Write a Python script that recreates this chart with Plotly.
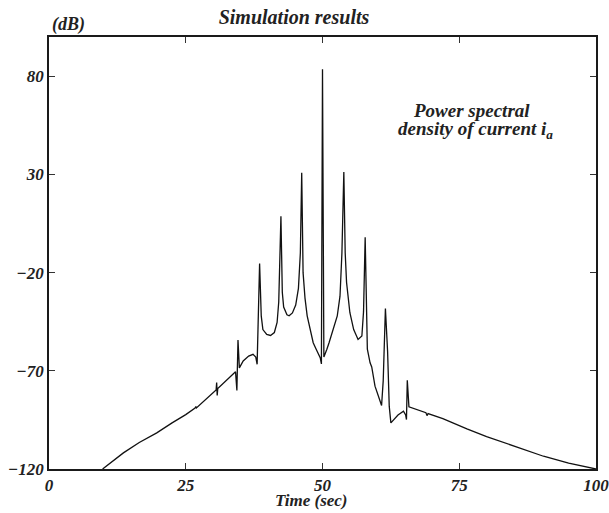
import plotly.graph_objects as go

# Power spectral density of current i_a
time_sec = [
    9.8, 11.5, 13.6, 16.5, 19.7, 22.5, 25.0, 26.7, 26.85, 26.95,
    28.8, 30.55, 30.65, 30.75, 30.85, 32.5, 34.1, 34.35, 34.55, 34.8,
    35.5, 36.5, 37.3, 37.8, 38.05, 38.5, 38.8, 39.1, 39.8, 40.5,
    41.2, 41.7, 42.0, 42.4, 42.65, 42.9, 43.5, 43.9, 44.5, 45.1,
    45.6, 45.95, 46.2, 46.45, 46.8, 47.2, 47.8, 48.3, 48.8, 49.2,
    49.6, 49.8, 50.0, 50.25, 50.4, 50.8, 51.2, 52.0, 52.7, 53.2,
    53.55, 53.9, 54.15, 54.4, 55.0, 55.7, 56.5, 57.2, 57.5, 57.8,
    58.0, 58.2, 58.7, 59.0, 59.6, 60.2, 60.8, 61.1, 61.5, 61.9,
    62.2, 62.5, 63.0, 63.8, 64.8, 65.2, 65.35, 65.5, 65.8, 67.0,
    68.9, 69.1, 69.3, 72.0, 76.4, 80.0, 83.3, 87.0, 90.4, 95.0,
    100.0,
]
psd_db = [
    -120, -116.2, -111.8, -106.5, -101.6, -96.5, -92.3, -89.0, -88.2, -88.9,
    -84.0, -79.8, -76.0, -82.5, -79.0, -74.8, -70.5, -80.0, -54.3, -68.5,
    -65.0, -62.5, -61.6, -63.0, -66.7, -15.3, -42.0, -49.0, -51.5, -52.0,
    -50.5, -45.4, -35.0, 8.7, -30.0, -37.5, -41.5, -42.0, -40.5, -36.5,
    -28.0, -10.0, 30.8, -20.0, -33.0, -42.0, -50.0, -55.7, -58.8, -60.8,
    -63.5, -66.5, 83.6, -63.0, -61.6, -59.0, -55.7, -49.0, -42.0, -32.0,
    -10.0, 31.2, -10.0, -25.0, -40.3, -49.0, -54.0, -52.3, -40.0, -2.0,
    -45.0, -59.0, -65.9, -68.0, -77.8, -83.0, -87.7, -75.0, -38.3, -60.0,
    -88.0, -96.5, -95.0, -92.5, -90.6, -92.5, -94.8, -74.8, -88.3, -89.5,
    -91.3, -92.8, -91.8, -94.3, -99.6, -103.5, -106.8, -110.5, -113.5, -117.0,
    -120.0,
]

x_ticks = [0, 25, 50, 75, 100]
y_ticks = [-120, -70, -20, 30, 80]

FONT = "Liberation Serif"
W, H = 609, 513
L, R, T, B = 49, 13, 37, 44
pw, ph = W - L - R, H - T - B


def px_x(px):
    return (px - L) / pw


def px_y(py):
    return (H - B - py) / ph


def bi(size):
    return dict(family=FONT, size=size, color="#222222", weight="bold", style="italic")


fig = go.Figure()
fig.add_trace(go.Scatter(
    x=time_sec, y=psd_db, mode="lines",
    line=dict(color="#111111", width=1.3),
    showlegend=False,
))

axis_common = dict(
    showgrid=False, zeroline=False, automargin=False,
    showline=True, linecolor="#1a1a1a", linewidth=1.8,
    mirror="ticks", ticks="inside", ticklen=6, tickcolor="#333333", tickwidth=1.3,
    tickfont=bi(17), ticklabeloverflow="allow",
)
fig.update_xaxes(range=[0, 100], tickvals=x_ticks, **axis_common)
fig.update_yaxes(range=[-120, 100], tickvals=y_ticks, **axis_common)

fig.add_annotation(text="(dB)", xref="paper", yref="paper", x=px_x(50), y=px_y(24),
                   xanchor="left", yanchor="middle", showarrow=False, font=bi(18))
fig.add_annotation(text="Power spectral", xref="paper", yref="paper", x=px_x(411), y=px_y(110),
                   xanchor="left", yanchor="middle", showarrow=False, font=bi(19))
fig.add_annotation(text="density of current i<sub>a</sub>", xref="paper", yref="paper",
                   x=px_x(396), y=px_y(130), xanchor="left", yanchor="middle",
                   showarrow=False, font=bi(19))
fig.add_annotation(text="Time (sec)", xref="paper", yref="paper", x=px_x(311), y=px_y(501),
                   xanchor="center", yanchor="middle", showarrow=False, font=bi(17))

fig.update_layout(
    width=W, height=H,
    margin=dict(l=L, r=R, t=T, b=B),
    paper_bgcolor="white", plot_bgcolor="white",
    title=dict(text="Simulation results", x=294 / W, xanchor="center",
               y=1 - 17 / H, yanchor="middle", font=bi(20)),
)

# drop the default 8px body margin so the 609x513 figure fills the window exactly
fig.write_html("out.html", config={"displayModeBar": False},
               post_script="document.body.style.margin = '0';")
